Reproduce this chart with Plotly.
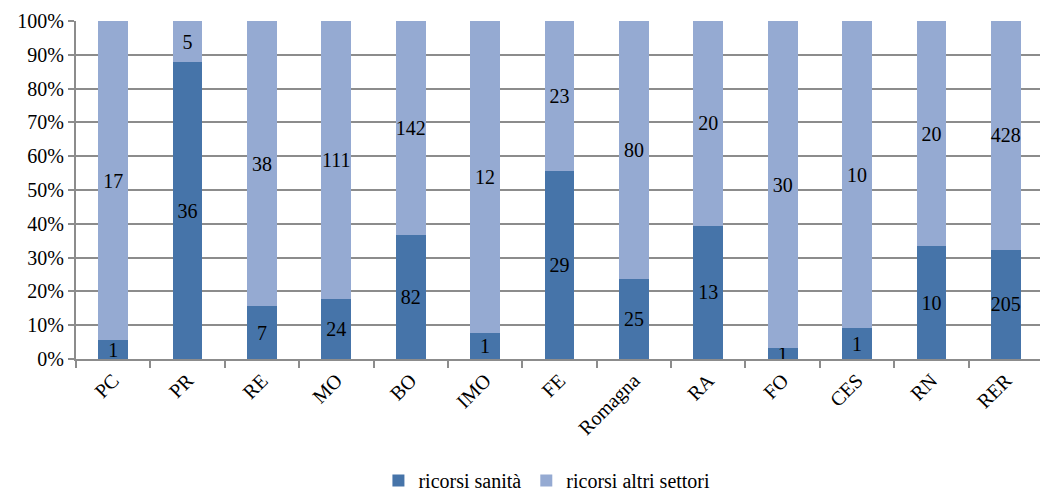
import plotly.graph_objects as go

categories = ["PC", "PR", "RE", "MO", "BO", "IMO", "FE", "Romagna", "RA", "FO", "CES", "RN", "RER"]
ricorsi_sanita = [1, 36, 7, 24, 82, 1, 29, 25, 13, 1, 1, 10, 205]
ricorsi_altri = [17, 5, 38, 111, 142, 12, 23, 80, 20, 30, 10, 20, 428]

FONT = "Liberation Serif, Times New Roman, serif"
GRID = "#8c8c8c"

fig = go.Figure()
fig.add_trace(go.Bar(x=categories, y=ricorsi_sanita, name="ricorsi sanità",
                     marker=dict(color="#4674a9", line=dict(width=0)),
                     text=ricorsi_sanita, textposition="inside", insidetextanchor="middle",
                     textangle=0, textfont=dict(color="black", size=20, family=FONT)))
fig.add_trace(go.Bar(x=categories, y=ricorsi_altri, name="ricorsi altri settori",
                     marker=dict(color="#95aad2", line=dict(width=0)),
                     text=ricorsi_altri, textposition="inside", insidetextanchor="middle",
                     textangle=0, textfont=dict(color="black", size=20, family=FONT)))

# page body adds an 8px offset, so the figure is sized to fit inside the window
fig.update_layout(
    barmode="stack", barnorm="percent", bargap=0.6,
    width=1040, height=487,
    margin=dict(l=68, r=5, t=13, b=136),
    paper_bgcolor="white", plot_bgcolor="white",
    font=dict(family=FONT, size=20, color="black"),
    uniformtext=dict(minsize=20, mode="show"),
    legend=dict(orientation="h", x=0.487, xanchor="center", y=0.03, yanchor="middle",
                yref="container", font=dict(size=20, family=FONT), itemwidth=30,
                traceorder="normal"),
)
fig.update_yaxes(range=[0, 100], dtick=10, ticksuffix="%", showgrid=True, gridcolor=GRID,
                 gridwidth=2, showline=True, linecolor=GRID, linewidth=2, automargin=False,
                 tickfont=dict(family=FONT, size=20),
                 ticks="outside", ticklen=6, tickcolor=GRID, tickwidth=2, zeroline=False)
fig.update_xaxes(tickangle=-45, showline=True, linecolor=GRID, linewidth=2, automargin=False,
                 tickfont=dict(family=FONT, size=20),
                 ticks="outside", tickson="boundaries", ticklen=7, tickcolor=GRID, tickwidth=2)

fig.write_html("out.html")
